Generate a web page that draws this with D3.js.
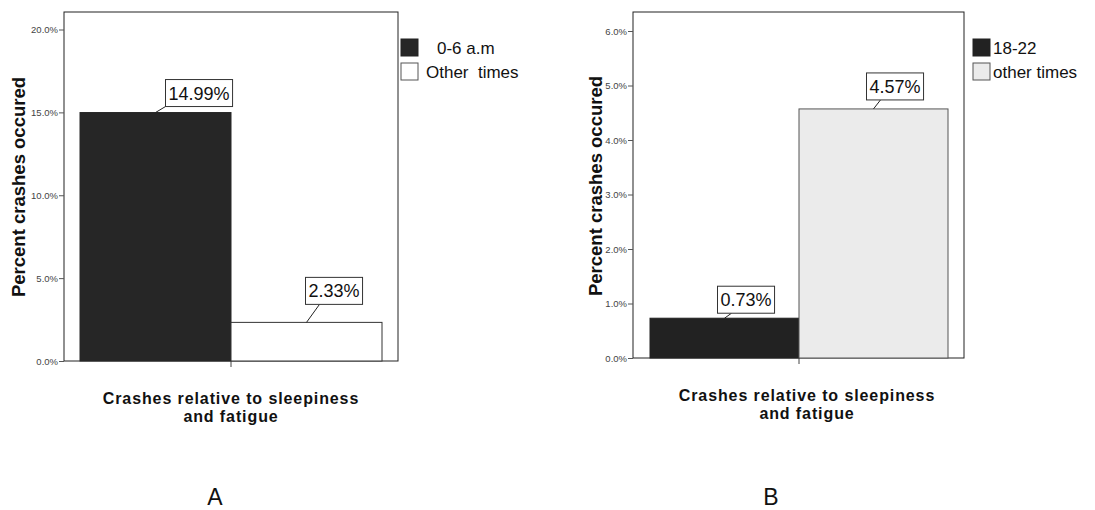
<!DOCTYPE html>
<html>
<head>
<meta charset="utf-8">
<script src="https://cdn.jsdelivr.net/npm/d3@7"></script>
<style>
  html, body { margin: 0; padding: 0; background: #fff; }
  svg { display: block; font-family: "Liberation Sans", Arial, sans-serif; }
</style>
</head>
<body>
<svg id="chart" width="1095" height="510"></svg>
<script>
  // data
  const panelNames = ['A', 'B'];
  const seriesA = ['0-6 a.m', 'Other  times'];
  const valuesA = [14.99, 2.33];
  const ticksA = [0, 5, 10, 15, 20];
  const seriesB = ['18-22', 'other times'];
  const valuesB = [0.73, 4.57];
  const ticksB = [0, 1, 2, 3, 4, 5, 6];
  const yTitle = 'Percent crashes occured';
  const xTitle = ['Crashes relative to sleepiness', 'and fatigue'];

  // layout of each panel
  const panels = [
    {
      name: panelNames[0], series: seriesA, values: valuesA, ticks: ticksA,
      frame: { x0: 64, x1: 398, y0: 12, y1: 361 }, topTick: 29.5,
      band: [80, 382],
      fills: ['#262626', '#ffffff'], strokes: ['#262626', '#333'],
      // box offset from bar centre / bar top, leader end dx from bar centre
      labels: [{ dx: 10, gap: 6, lx: 10 }, { dx: -1, gap: 18, lx: 13 }],
      yTitleX: 19, yTitleY: 187,
      legend: { x: 401, y: 39, textX: [437, 426] },
      xTitleX: 231, xTitleY: 404, nameX: 215
    },
    {
      name: panelNames[1], series: seriesB, values: valuesB, ticks: ticksB,
      frame: { x0: 633, x1: 964, y0: 12, y1: 358 }, topTick: 31,
      band: [650, 948],
      fills: ['#222222', '#ebebeb'], strokes: ['#222', '#555'],
      labels: [{ dx: -7, gap: 5, lx: 7 }, { dx: -7, gap: 9, lx: 7 }],
      yTitleX: 596, yTitleY: 186,
      legend: { x: 973, y: 39, textX: [993, 993] },
      xTitleX: 807, xTitleY: 401, nameX: 771
    }
  ];

  const svg = d3.select('#chart');

  panels.forEach(p => {
    const g = svg.append('g');
    const f = p.frame;
    const yMax = d3.max(p.ticks);

    const y = d3.scaleLinear().domain([0, yMax]).range([f.y1, p.topTick]);
    const x = d3.scaleBand().domain(p.series).range(p.band).padding(0);

    // frame
    g.append('rect')
      .attr('x', f.x0).attr('y', f.y0)
      .attr('width', f.x1 - f.x0).attr('height', f.y1 - f.y0)
      .attr('fill', 'none').attr('stroke', '#222').attr('stroke-width', 1);

    // y axis
    const yAxis = d3.axisLeft(y)
      .tickValues(p.ticks)
      .tickSize(5)
      .tickPadding(1)
      .tickFormat(d => d.toFixed(1) + '%');
    const ya = g.append('g')
      .attr('transform', `translate(${f.x0},0)`)
      .call(yAxis);
    ya.select('.domain').remove();
    ya.selectAll('line').attr('stroke', '#555');
    ya.selectAll('text')
      .attr('fill', '#444')
      .style('font-size', '9.5px')
      .style('font-family', '"Liberation Sans", Arial, sans-serif');

    // bars
    g.selectAll('rect.bar')
      .data(p.series)
      .join('rect')
      .attr('class', 'bar')
      .attr('x', d => x(d))
      .attr('y', (d, i) => y(p.values[i]))
      .attr('width', x.bandwidth())
      .attr('height', (d, i) => f.y1 - y(p.values[i]))
      .attr('fill', (d, i) => p.fills[i])
      .attr('stroke', (d, i) => p.strokes[i])
      .attr('stroke-width', 1);

    // x tick in the middle
    const mid = x(p.series[1]);
    g.append('line')
      .attr('x1', mid).attr('x2', mid)
      .attr('y1', f.y1).attr('y2', f.y1 + 6)
      .attr('stroke', '#444');

    // value labels with leader lines
    const boxW = 60, boxH = 27;
    p.series.forEach((s, i) => {
      const v = p.values[i];
      const cx = x(s) + x.bandwidth() / 2;
      const top = y(v);
      const L = p.labels[i];
      const bx = cx + L.dx;
      const by = top - L.gap - boxH;
      const txt = v.toFixed(2) + '%';
      g.append('line')
        .attr('x1', cx).attr('y1', top)
        .attr('x2', cx + L.lx).attr('y2', top - L.gap)
        .attr('stroke', '#222');
      const box = g.append('rect')
        .attr('x', bx).attr('y', by)
        .attr('height', boxH)
        .attr('fill', '#fff').attr('stroke', '#333');
      const t = g.append('text')
        .attr('x', bx + 3)
        .attr('y', by + 20)
        .style('font-size', '18px')
        .attr('fill', '#111')
        .text(txt);
      const w = t.node().getComputedTextLength();
      box.attr('width', Math.max(boxW - 4, w + 6));
    });

    // y title
    g.append('text')
      .attr('transform', `translate(${p.yTitleX},${p.yTitleY}) rotate(-90)`)
      .attr('text-anchor', 'middle')
      .attr('dy', '0.35em')
      .style('font-size', '18.5px')
      .style('font-weight', 'bold')
      .attr('fill', '#111')
      .text(yTitle);

    // legend
    p.series.forEach((s, i) => {
      const yy = p.legend.y + i * 24;
      g.append('rect')
        .attr('x', p.legend.x).attr('y', yy)
        .attr('width', 17).attr('height', 17)
        .attr('fill', p.fills[i])
        .attr('stroke', i === 0 ? '#222' : '#555');
      g.append('text')
        .attr('x', p.legend.textX[i])
        .attr('y', yy + 15)
        .style('font-size', '17px')
        .style('white-space', 'pre')
        .attr('fill', '#111')
        .text(s);
    });

    // x title
    xTitle.forEach((line, i) => {
      g.append('text')
        .attr('x', p.xTitleX)
        .attr('y', p.xTitleY + i * 18)
        .attr('text-anchor', 'middle')
        .style('font-size', '16px')
        .style('letter-spacing', '0.9px')
        .style('font-weight', 'bold')
        .attr('fill', '#111')
        .text(line);
    });

    // panel letter
    g.append('text')
      .attr('x', p.nameX)
      .attr('y', 505)
      .attr('text-anchor', 'middle')
      .style('font-size', '23px')
      .attr('fill', '#111')
      .text(p.name);
  });
</script>
</body>
</html>
